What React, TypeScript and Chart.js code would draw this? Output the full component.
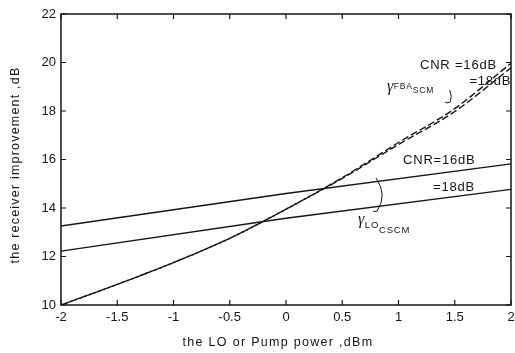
import React, { useEffect, useRef } from "react";
import { Chart, registerables } from "chart.js";

Chart.register(...registerables);

// x positions (LO / pump power, dBm)
const fbaX = [-2, -1.5, -1, -0.5, 0, 0.5, 1, 1.5, 2];
const fbaCnr16 = [10, 10.85, 11.75, 12.75, 13.95, 15.25, 16.7, 18.1, 19.97];
const fbaCnr18 = [10, 10.85, 11.75, 12.75, 13.95, 15.22, 16.62, 17.98, 19.78];

const cscmX = [-2, 0, 2];
const cscmCnr16 = [13.26, 14.6, 15.82];
const cscmCnr18 = [12.22, 13.58, 14.77];

const xTickValues = [-2, -1.5, -1, -0.5, 0, 0.5, 1, 1.5, 2];
const xTickLabels = ["-2", "-1.5", "-1", "-0.5", "0", "0.5", "1", "1.5", "2"];
const yTickValues = [10, 12, 14, 16, 18, 20, 22];
const yTickLabels = ["10", "12", "14", "16", "18", "20", "22"];

const xTitle = "the LO or Pump power ,dBm";
const yTitle = "the receiver improvement ,dB";

const FONT = "'Liberation Sans', Arial, sans-serif";
const INK = "#151515";

const pts = (xs: number[], ys: number[]) => xs.map((x, i) => ({ x, y: ys[i] }));

const framePlugin = {
  id: "frame",
  afterDatasetsDraw(chart: any) {
    const { ctx, chartArea: a, scales } = chart;
    const xs = scales.x;
    const ys = scales.y;
    const X = (v: number) => xs.getPixelForValue(v);
    const Y = (v: number) => ys.getPixelForValue(v);
    ctx.save();
    ctx.strokeStyle = INK;
    ctx.lineWidth = 1.5;
    ctx.strokeRect(a.left, a.top, a.right - a.left, a.bottom - a.top);
    ctx.lineWidth = 1.2;
    const tl = 5;
    xTickValues.forEach((v) => {
      const p = X(v);
      ctx.beginPath();
      ctx.moveTo(p, a.bottom);
      ctx.lineTo(p, a.bottom - tl);
      ctx.moveTo(p, a.top);
      ctx.lineTo(p, a.top + tl);
      ctx.stroke();
    });
    yTickValues.forEach((v) => {
      const p = Y(v);
      ctx.beginPath();
      ctx.moveTo(a.left, p);
      ctx.lineTo(a.left + tl, p);
      ctx.moveTo(a.right, p);
      ctx.lineTo(a.right - tl, p);
      ctx.stroke();
    });

    ctx.fillStyle = INK;

    // axis titles
    ctx.font = `12.5px ${FONT}`;
    (ctx as any).letterSpacing = "1.3px";
    ctx.textBaseline = "middle";
    ctx.textAlign = "left";
    const wx = ctx.measureText(xTitle).width;
    ctx.fillText(xTitle, 278 - wx / 2, 343);
    (ctx as any).letterSpacing = "1.2px";
    const wy = ctx.measureText(yTitle).width;
    ctx.save();
    ctx.translate(16, 165);
    ctx.rotate(-Math.PI / 2);
    ctx.fillText(yTitle, -wy / 2, 0);
    ctx.restore();

    // curve labels
    ctx.font = `13px ${FONT}`;
    (ctx as any).letterSpacing = "0.8px";
    ctx.fillText("CNR =16dB", X(1.191), Y(19.897));
    ctx.fillText("=18dB", X(1.63), Y(19.237));
    ctx.fillText("CNR=16dB", X(1.04), Y(15.98));
    ctx.fillText("=18dB", X(1.307), Y(14.845));

    const gamma = (
      x0: number,
      top: number,
      s1: string,
      s2: string,
      size: number,
      d1: number,
      d2: number
    ) => {
      ctx.textBaseline = "alphabetic";
      (ctx as any).letterSpacing = "0px";
      ctx.font = `italic 16px 'Liberation Serif', serif`;
      ctx.fillText("\u03b3", x0, top + 9);
      const w = ctx.measureText("\u03b3").width;
      ctx.font = `${size}px ${FONT}`;
      (ctx as any).letterSpacing = "0.8px";
      ctx.fillText(s1, x0 + w + 0.5, top + d1);
      const w1 = ctx.measureText(s1).width;
      ctx.fillText(s2, x0 + w + 0.5 + w1, top + d2);
    };
    gamma(X(0.898), Y(19.196), "FBA", "SCM", 8.5, 7, 11);
    gamma(X(0.64), Y(13.71), "LO", "CSCM", 9.5, 13, 18);

    // brackets
    ctx.lineWidth = 1;
    ctx.beginPath();
    ctx.moveTo(X(0.8), Y(15.237));
    ctx.quadraticCurveTo(X(0.905), Y(14.536), X(0.81), Y(13.876));
    ctx.quadraticCurveTo(X(0.79), Y(13.84), X(0.775), Y(13.87));
    ctx.stroke();
    ctx.beginPath();
    ctx.moveTo(X(1.455), Y(18.866));
    ctx.quadraticCurveTo(X(1.48), Y(18.6), X(1.46), Y(18.38));
    ctx.quadraticCurveTo(X(1.44), Y(18.3), X(1.415), Y(18.36));
    ctx.stroke();
    ctx.restore();
  },
};

export default function App() {
  const ref = useRef<HTMLCanvasElement | null>(null);
  useEffect(() => {
    if (!ref.current) return;
    const line = (data: any, dash: number[], offset: number, mono: boolean) => ({
      data,
      borderColor: INK,
      borderWidth: 1.4,
      borderDash: dash,
      borderDashOffset: offset,
      pointRadius: 0,
      fill: false,
      cubicInterpolationMode: mono ? "monotone" : "default",
      tension: 0,
    });
    const chart = new Chart(ref.current, {
      type: "line",
      data: {
        datasets: [
          line(pts(fbaX, fbaCnr16), [7, 3], 0, true),
          line(pts(fbaX, fbaCnr18), [7, 3], 5, true),
          line(pts(cscmX, cscmCnr16), [], 0, false),
          line(pts(cscmX, cscmCnr18), [], 0, false),
        ] as any,
      },
      options: {
        animation: false,
        responsive: false,
        layout: { padding: { top: 14, right: 4, left: 0, bottom: 0 } },
        plugins: { legend: { display: false }, tooltip: { enabled: false } },
        scales: {
          x: {
            type: "linear",
            min: -2,
            max: 2,
            grid: { display: false, drawTicks: false },
            border: { display: false },
            afterBuildTicks: (s: any) => {
              s.ticks = xTickValues.map((v) => ({ value: v }));
            },
            afterFit: (s: any) => {
              s.height = 48;
              s.paddingLeft = 0;
              s.paddingRight = 0;
            },
            ticks: {
              padding: 5,
              color: INK,
              font: { family: FONT, size: 13 },
              maxRotation: 0,
              autoSkip: false,
              callback: (v: any) => {
                const i = xTickValues.indexOf(Number(v));
                return i >= 0 ? xTickLabels[i] : "";
              },
            },
          },
          y: {
            type: "linear",
            min: 10,
            max: 22,
            grid: { display: false, drawTicks: false },
            border: { display: false },
            afterBuildTicks: (s: any) => {
              s.ticks = yTickValues.map((v) => ({ value: v }));
            },
            afterFit: (s: any) => {
              s.width = 61;
              s.paddingTop = 0;
              s.paddingBottom = 0;
            },
            ticks: {
              padding: 5,
              color: INK,
              font: { family: FONT, size: 13 },
              autoSkip: false,
              callback: (v: any) => {
                const i = yTickValues.indexOf(Number(v));
                return i >= 0 ? yTickLabels[i] : "";
              },
            },
          },
        },
      },
      plugins: [framePlugin],
    });
    return () => chart.destroy();
  }, []);
  return (
    <div style={{ position: "absolute", left: 0, top: 0, width: 515, height: 353, background: "#fff" }}>
      <canvas ref={ref} width={515} height={353} style={{ display: "block" }} />
    </div>
  );
}
